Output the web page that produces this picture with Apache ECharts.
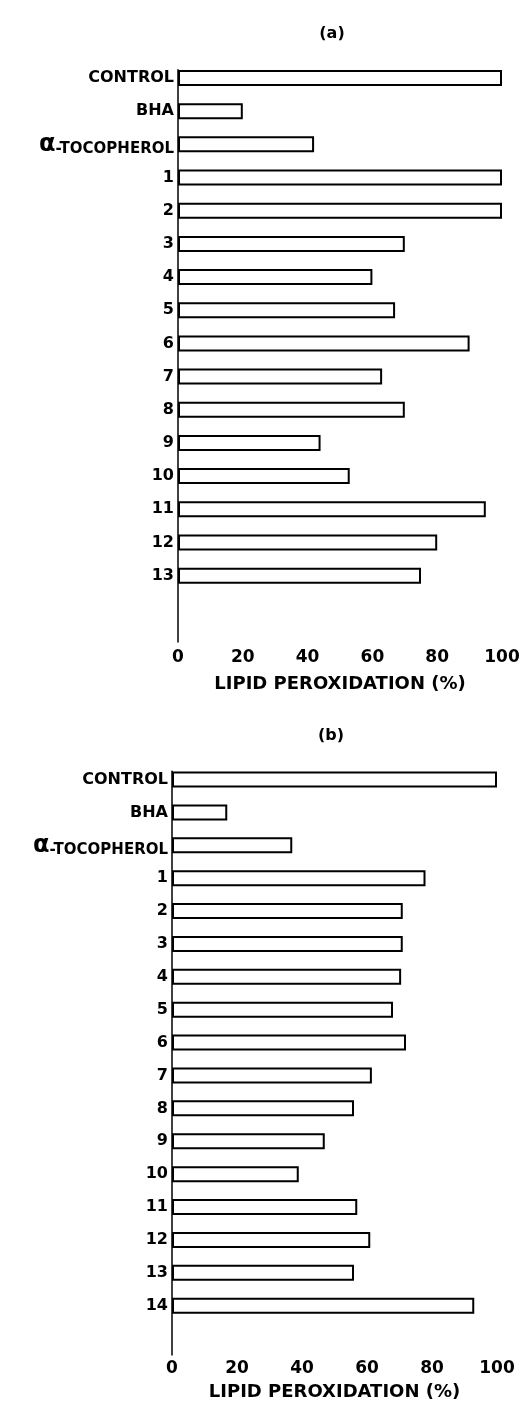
<!DOCTYPE html>
<html>
<head>
<meta charset="utf-8">
<title>Lipid peroxidation</title>
<script src="https://cdn.jsdelivr.net/npm/echarts@6/dist/echarts.min.js"></script>
</head>
<body style="margin:0;padding:0;background:#fff;">
<div id="main" style="width:524px;height:1404px;"></div>
<script type="text/javascript">
// panel (a)
var namesA = ['CONTROL', 'BHA', 'α-TOCOPHEROL', '1', '2', '3', '4', '5', '6', '7', '8', '9', '10', '11', '12', '13'];
var valuesA = [100, 20, 42, 100, 100, 70, 60, 67, 90, 63, 70, 44, 53, 95, 80, 75];
// panel (b)
var namesB = ['CONTROL', 'BHA', 'α-TOCOPHEROL', '1', '2', '3', '4', '5', '6', '7', '8', '9', '10', '11', '12', '13', '14'];
var valuesB = [100, 17, 37, 78, 71, 71, 70.5, 68, 72, 61.5, 56, 47, 39, 57, 61, 56, 93];
var xTicks = [0, 20, 40, 60, 80, 100];
var axisName = 'LIPID PEROXIDATION (%)';

// each bar takes 4 fine slots on the y axis, so the empty space under the last bar fits
function spread(names, values, total) {
	var cats = [], data = [];
	for (var k = 0; k < total; k++) { cats.push(''); data.push('-'); }
	for (var i = 0; i < names.length; i++) {
		cats[4 * i + 1] = names[i];
		data[4 * i + 1] = values[i];
	}
	return { cats: cats, data: data };
}
var A = spread(namesA, valuesA, 70);
var B = spread(namesB, valuesB, 72);

var font = 'DejaVu Sans';
function yAxisOf(idx, cats) {
	return {
		type: 'category', gridIndex: idx, inverse: true, boundaryGap: false, data: cats,
		axisLine: { lineStyle: { color: '#000', width: 1.5 } },
		axisTick: { show: false },
		splitLine: { show: false },
		axisLabel: {
			interval: 0, margin: 4, color: '#000', fontFamily: font, fontWeight: 'bold', fontSize: 16,
			formatter: function (v) {
				if (v.charAt(0) === 'α') return '{a|α}{t|' + v.slice(1) + '}';
				return v;
			},
			rich: {
				a: { fontSize: 24, fontFamily: font, fontWeight: 'bold', color: '#000', verticalAlign: 'bottom' },
				t: { fontSize: 15, fontFamily: font, fontWeight: 'bold', color: '#000', verticalAlign: 'bottom' }
			}
		}
	};
}
function xAxisOf(idx, gap, margin) {
	return {
		type: 'value', gridIndex: idx, min: xTicks[0], max: xTicks[xTicks.length - 1], interval: xTicks[1] - xTicks[0],
		name: axisName, nameLocation: 'middle', nameGap: gap,
		nameTextStyle: { color: '#000', fontFamily: font, fontWeight: 'bold', fontSize: 18 },
		axisLine: { lineStyle: { color: '#000', width: 1.5 } },
		axisTick: { inside: true, length: 6, lineStyle: { color: '#000', width: 1.5 } },
		splitLine: { show: false },
		axisLabel: { margin: margin, color: '#000', fontFamily: font, fontWeight: 'bold', fontSize: 17 }
	};
}
var barStyle = { color: '#fff', borderColor: '#000', borderWidth: 2 };

var myChart = echarts.init(document.getElementById('main'));
myChart.setOption({
	backgroundColor: '#fff',
	animation: false,
	title: [
		{ text: '(a)', left: 327, top: 21, textAlign: 'center', textStyle: { color: '#000', fontFamily: font, fontWeight: 'bold', fontSize: 16 } },
		{ text: '(b)', left: 326, top: 723, textAlign: 'center', textStyle: { color: '#000', fontFamily: font, fontWeight: 'bold', fontSize: 16 } }
	],
	grid: [
		{ left: 178, right: 22, top: 69.7, bottom: 762, containLabel: false, outerBoundsMode: 'none' },
		{ left: 172, right: 27, top: 771.3, bottom: 49, containLabel: false, outerBoundsMode: 'none' }
	],
	xAxis: [xAxisOf(0, 33, 7), xAxisOf(1, 28, 5)],
	yAxis: [yAxisOf(0, A.cats), yAxisOf(1, B.cats)],
	series: [
		{ type: 'bar', xAxisIndex: 0, yAxisIndex: 0, data: A.data, barWidth: 16, itemStyle: barStyle },
		{ type: 'bar', xAxisIndex: 1, yAxisIndex: 1, data: B.data, barWidth: 16, itemStyle: barStyle }
	]
});
</script>
</body>
</html>
